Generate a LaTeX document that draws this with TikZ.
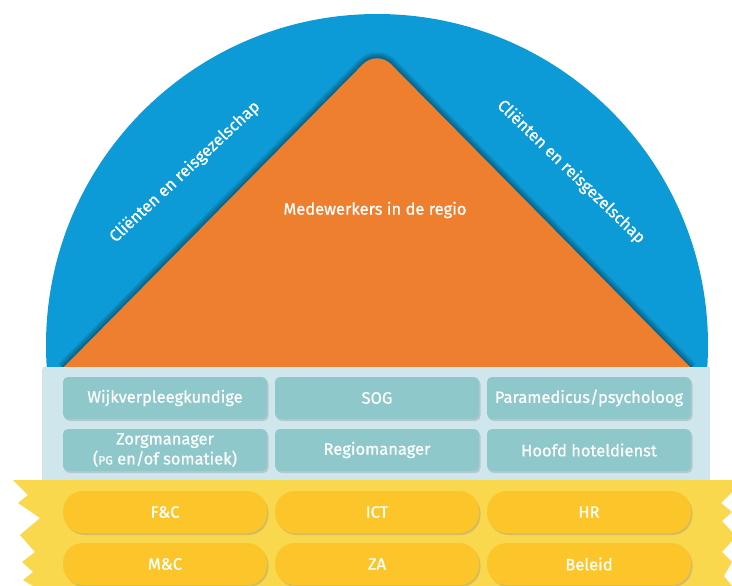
\documentclass[tikz,border=0pt]{standalone}
\usepackage{fontspec}
\setmainfont{Fira Sans}
\newfontfamily\labelfont{Fira Sans}[FakeBold=0.7]
\usetikzlibrary{shadows}
\definecolor{domeblue}{HTML}{0C9BD6}
\definecolor{rooforange}{HTML}{EE7F2E}
\definecolor{panelblue}{HTML}{CFE7EC}
\definecolor{roleteal}{HTML}{8FC8CA}
\definecolor{bandyellow}{HTML}{F9D84E}
\definecolor{deptyellow}{HTML}{FCC62A}

\begin{document}
\begin{tikzpicture}[x=1pt,y=-1pt,
 role/.style={fill=roleteal,rounded corners=5pt,minimum width=204pt,minimum height=42pt,
   text=white,align=center,inner sep=1pt,font=\labelfont\fontsize{16.5}{20}\selectfont,
   drop shadow={shadow xshift=1.5pt,shadow yshift=-2pt,opacity=.3}},
 dept/.style={fill=deptyellow,rounded corners=20pt,minimum width=204pt,minimum height=42pt,
   text=white,font=\labelfont\fontsize{16.5}{18}\selectfont,
   drop shadow={shadow xshift=1.5pt,shadow yshift=-2pt,opacity=.3}},
 dome/.style={text=white,font=\labelfont\fontsize{16.5}{18}\selectfont}]
\useasboundingbox (0,0) rectangle (732,586);
% blue dome
\begin{scope}
\clip (0,0) rectangle (732,367);
\fill[domeblue] (377,345) circle[radius=331pt];
\foreach \w in {12,8,4}
  \draw[black,opacity=.12,line width=\w pt,line join=round] (63,368) [rounded corners=20pt] -- (377,50) [sharp corners] -- (691,368);
\fill[rooforange] (63,368) [rounded corners=20pt] -- (377,50) [sharp corners] -- (691,368) -- cycle;
\end{scope}
\node[dome] (mede) at (375,210) {Medewerkers in de regio};
\node[dome,rotate=43] (clientl) at (185,172) {Cliënten en reisgezelschap};
\node[dome,rotate=-44] (clientr) at (571,172) {Cliënten en reisgezelschap};
% region panel
\fill[panelblue,drop shadow={shadow xshift=-1.5pt,shadow yshift=-1.5pt,opacity=.25}] (43,367) rectangle (710,480);
\node[role] (wijk) at (165,398) {Wijkverpleegkundige};
\node[role] (sog) at (377,398) {SOG};
\node[role] (para) at (589,398) {Paramedicus/psycholoog};
\node[role] (zorg) at (165,450) {Zorgmanager\\({\fontsize{12}{12}\selectfont PG} en/of somatiek)};
\node[role] (regio) at (377,450) {Regiomanager};
\node[role] (hoofd) at (589,450) {Hoofd hoteldienst};
% support band
\fill[bandyellow] (13,480) -- (732,480) -- (732,492) -- (721,503) -- (732,512) -- (722,521)
  -- (732,532) -- (732,541) -- (722,552) -- (732,562) -- (724,576) -- (732,586)
  -- (33,586) -- (23,580) -- (33,572) -- (22,562) -- (35,552) -- (20,535) -- (40,518)
  -- (18,503) -- (28,495) -- cycle;
\node[dept] (fc) at (165,512) {F\&C};
\node[dept] (ict) at (377,512) {ICT};
\node[dept] (hr) at (589,512) {HR};
\node[dept] (mc) at (165,564) {M\&C};
\node[dept] (za) at (377,564) {ZA};
\node[dept] (beleid) at (589,564) {Beleid};
\end{tikzpicture}
\end{document}
